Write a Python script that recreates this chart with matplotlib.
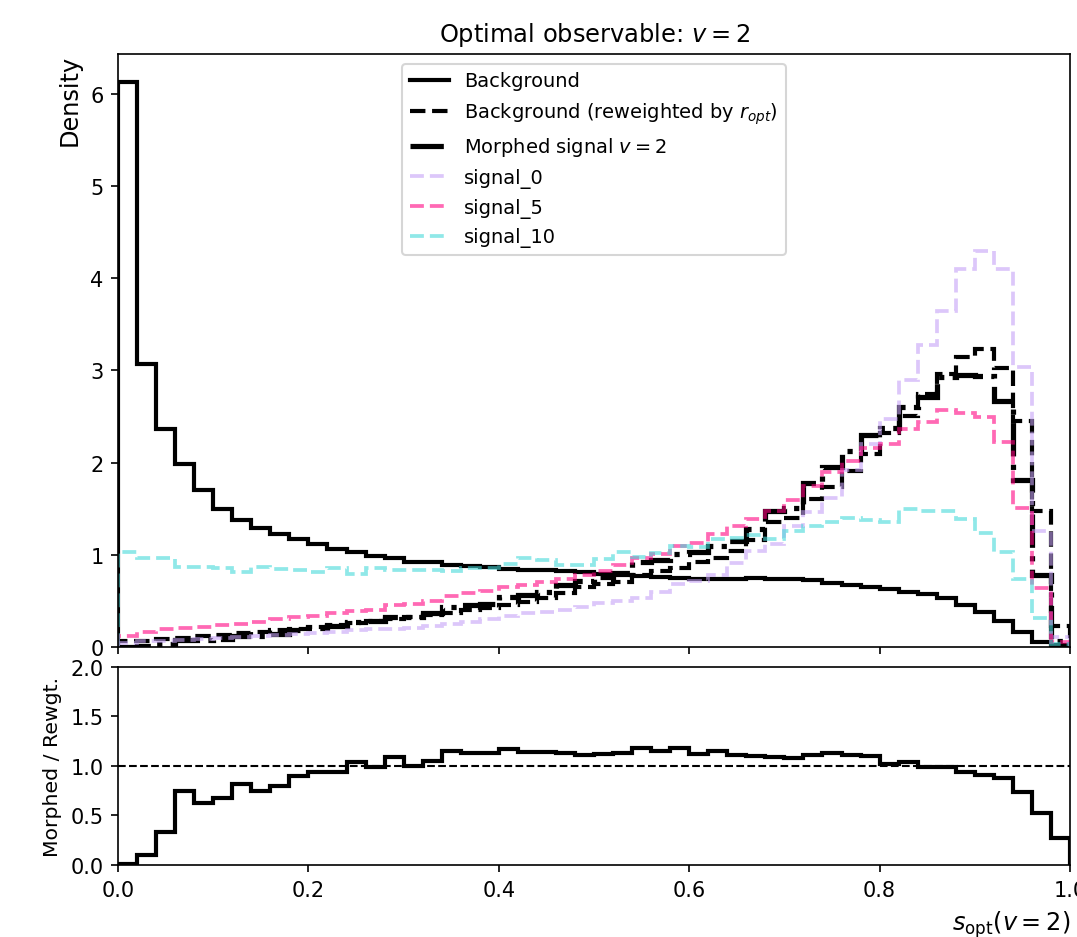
import numpy as np
import matplotlib
matplotlib.use("Agg")
import matplotlib.pyplot as plt

# 50 bins on [0, 1]
n_bins = 50

background = [6.13, 3.07, 2.36, 1.98, 1.70, 1.50, 1.38, 1.29, 1.23, 1.17,
              1.12, 1.06, 1.03, 0.99, 0.96, 0.92, 0.92, 0.89, 0.88, 0.87,
              0.85, 0.84, 0.83, 0.82, 0.81, 0.79, 0.78, 0.77, 0.76, 0.75,
              0.74, 0.74, 0.74, 0.75, 0.74, 0.74, 0.73, 0.69, 0.67, 0.65,
              0.63, 0.60, 0.57, 0.53, 0.455, 0.38, 0.285, 0.16, 0.05, 0.02]

background_rw = [0.06, 0.07, 0.09, 0.10, 0.12, 0.13, 0.15, 0.16, 0.18, 0.20,
                 0.22, 0.24, 0.26, 0.28, 0.30, 0.33, 0.35, 0.37, 0.40, 0.42,
                 0.46, 0.49, 0.53, 0.59, 0.65, 0.68, 0.71, 0.78, 0.82, 0.86,
                 0.92, 0.96, 1.04, 1.16, 1.35, 1.40, 1.60, 1.73, 1.91, 2.09,
                 2.32, 2.50, 2.74, 2.96, 3.14, 3.23, 3.03, 2.45, 1.48, 0.23]

morphed = [0.00, 0.01, 0.03, 0.08, 0.08, 0.09, 0.12, 0.12, 0.14, 0.18,
           0.21, 0.23, 0.27, 0.28, 0.33, 0.33, 0.37, 0.43, 0.45, 0.47,
           0.54, 0.56, 0.60, 0.67, 0.72, 0.76, 0.80, 0.92, 0.94, 1.01,
           1.03, 1.10, 1.15, 1.28, 1.47, 1.51, 1.78, 1.95, 2.12, 2.30,
           2.37, 2.60, 2.71, 2.93, 2.95, 2.94, 2.67, 1.81, 0.78, 0.06]

signal_0 = [0.04, 0.06, 0.07, 0.08, 0.09, 0.10, 0.11, 0.12, 0.13, 0.14,
            0.15, 0.16, 0.18, 0.19, 0.20, 0.21, 0.23, 0.25, 0.27, 0.30,
            0.34, 0.37, 0.38, 0.40, 0.43, 0.48, 0.50, 0.53, 0.60, 0.68,
            0.72, 0.78, 0.91, 1.04, 1.12, 1.31, 1.46, 1.62, 1.92, 2.20,
            2.47, 2.90, 3.28, 3.64, 4.10, 4.29, 4.10, 3.04, 1.26, 0.11]

signal_5 = [0.12, 0.16, 0.19, 0.21, 0.22, 0.24, 0.25, 0.27, 0.30, 0.32,
            0.34, 0.37, 0.39, 0.40, 0.45, 0.47, 0.50, 0.55, 0.59, 0.61,
            0.65, 0.67, 0.71, 0.74, 0.78, 0.82, 0.89, 0.97, 1.01, 1.10,
            1.13, 1.22, 1.31, 1.39, 1.48, 1.59, 1.75, 1.90, 2.02, 2.16,
            2.20, 2.36, 2.44, 2.57, 2.54, 2.49, 2.22, 1.51, 0.64, 0.05]

signal_10 = [1.03, 0.97, 0.97, 0.87, 0.87, 0.86, 0.81, 0.87, 0.85, 0.83,
             0.81, 0.86, 0.79, 0.86, 0.84, 0.83, 0.83, 0.82, 0.86, 0.86,
             0.90, 0.97, 0.94, 0.89, 0.89, 0.95, 1.03, 0.98, 1.02, 1.10,
             1.08, 1.17, 1.18, 1.21, 1.17, 1.26, 1.31, 1.36, 1.40, 1.38,
             1.35, 1.50, 1.47, 1.47, 1.39, 1.24, 1.03, 0.74, 0.31, 0.03]

# morphed / reweighted
ratio = [0.01, 0.10, 0.33, 0.75, 0.63, 0.68, 0.82, 0.75, 0.80, 0.90,
         0.94, 0.94, 1.04, 0.99, 1.09, 1.00, 1.05, 1.15, 1.13, 1.13,
         1.17, 1.14, 1.14, 1.13, 1.11, 1.12, 1.13, 1.18, 1.15, 1.18,
         1.12, 1.15, 1.11, 1.10, 1.09, 1.08, 1.11, 1.13, 1.11, 1.10,
         1.02, 1.04, 0.99, 0.99, 0.94, 0.91, 0.88, 0.74, 0.53, 0.27]

signals = {
    "signal_0": (signal_0, "#c6a3f7"),
    "signal_5": (signal_5, "#ff0582"),
    "signal_10": (signal_10, "#46d9d9"),
}

edges = np.linspace(0, 1, n_bins + 1)

fig = plt.figure(figsize=(7.18, 6.2533), dpi=150)
ax = fig.add_axes([0.1096, 0.30917, 0.8839, 0.63220])
ax_r = fig.add_axes([0.1096, 0.07676, 0.8839, 0.21109], sharex=ax)

ax.stairs(background, edges, color="black", lw=2, label="Background")
ax.stairs(background_rw, edges, color="black", lw=2, ls="--",
          label=r"Background (reweighted by $r_{opt}$)")
ax.stairs(morphed, edges, color="black", lw=2.5, ls="-.",
          label=r"Morphed signal $v=2$")
for name, (vals, col) in signals.items():
    ax.stairs(vals, edges, color=col, alpha=0.6, lw=1.8, ls="--", label=name)

ax.set_xlim(0, 1)
ax.set_ylim(0, 6.43)
ax.set_ylabel("Density", loc="top", fontsize=11.5)
ax.set_title(r"Optimal observable: $v = 2$", fontsize=11.6)
ax.legend(loc="upper center", fontsize=9.3)
ax.tick_params(labelbottom=False)

ax_r.stairs(ratio, edges, color="black", lw=2)
ax_r.axhline(1.0, color="black", ls="--", lw=1)
ax_r.set_ylim(0, 2)
ax_r.set_xlim(0, 1)
ax_r.set_ylabel("Morphed / Rewgt.", fontsize=9.8)
ax_r.set_xlabel(r"$s_{\rm opt}(v=2)$", loc="right", fontsize=11.5)

fig.savefig("out.png", dpi=150)
